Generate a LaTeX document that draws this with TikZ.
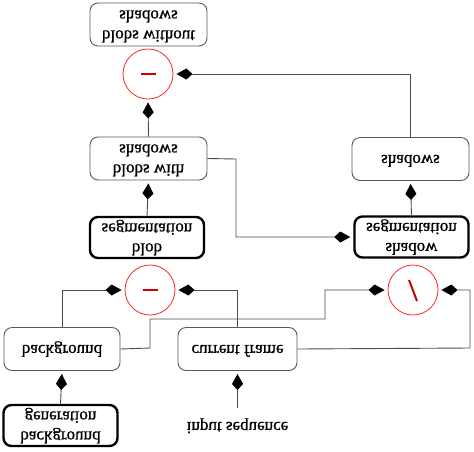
\documentclass[tikz,border=0pt]{standalone}
\usepackage{graphicx}
\usepackage{fontspec}
\setmainfont{Liberation Serif}
\newfontfamily\heavy[FakeBold=0.9]{Liberation Serif}
\usetikzlibrary{arrows.meta}
\newcommand{\fl}[1]{\scalebox{1}[-1]{\begin{tabular}{@{}c@{}}#1\end{tabular}}}
\begin{document}
\begin{tikzpicture}[x=1pt,y=-1pt,
  font=\heavy\fontsize{17}{20}\selectfont,
  box/.style={draw=black!65, line width=0.9pt, rounded corners=8pt, minimum width=117pt, minimum height=43pt, inner sep=0pt, fill=white},
  tbox/.style={draw=black, line width=2.4pt, rounded corners=8pt, minimum width=114pt, minimum height=41pt, inner sep=0pt, fill=white},
  op/.style={draw=red!85!white, line width=0.8pt, circle, minimum size=50pt, inner sep=0pt},
  conn/.style={draw=black!70, line width=0.9pt, -{Kite[length=16pt,width=11pt,inset=6pt,color=black,fill=black]}, shorten >=3pt},
  sign/.style={draw=red!80!black, line width=2pt}
]
\useasboundingbox (0,0) rectangle (474,451);
% boxes
\node[box] (bws) at (148.5,24.5) {\fl{blobs without\\shadows}};
\node[op] (c1) at (148,74) {};
\node[box] (bwith) at (148.5,158.5) {\fl{blobs with\\shadows}};
\node[box] (shadows) at (410.5,159) {\fl{shadows}};
\node[tbox] (blobseg) at (147,237.5) {\fl{blob\\segmentation}};
\node[tbox] (shadowseg) at (411.5,237) {\fl{shadow\\segmentation}};
\node[op] (c2) at (150,290) {};
\node[op] (c3) at (413,290) {};
\node[box, minimum width=116pt] (bg) at (62,349) {\fl{background}};
\node[box, minimum width=119pt] (cur) at (237.5,349) {\fl{current frame}};
\node[tbox] (bggen) at (60.5,425.5) {\fl{background\\generation}};
\node[inner sep=0pt] (inp) at (237.5,426) {\fl{input sequence}};
% operator signs
\draw[sign] ([xshift=-7.5pt]c1.center) -- ([xshift=7.5pt]c1.center);
\draw[sign] ([xshift=-7.5pt]c2.center) -- ([xshift=7.5pt]c2.center);
\draw[sign] ([xshift=-4pt,yshift=10pt]c3.center) -- ([xshift=4pt,yshift=-11pt]c3.center);
% connectors
\coordinate (k1) at (236,159);
\coordinate (k2) at (150,348);
\coordinate (k3) at (150,319);
\coordinate (k4) at (325,319);
\coordinate (k5) at (470,348);
\draw[conn] (bwith.north) -- (c1.south);
\draw[conn] (shadows.north) |- (c1.east);
\draw[conn] (blobseg.north) -- (bwith.south);
\draw[conn] (bwith.east) -- (k1) |- (shadowseg.west);
\draw[conn] (shadowseg.north) -- (shadows.south);
\draw[conn] (bg.north) |- (c2.west);
\draw[conn] (cur.north) |- (c2.east);
\draw[conn] (bg.east) -- (k2) -- (k3) -- (k4) |- (c3.west);
\draw[conn] (cur.east) -- (k5) |- (c3.east);
\draw[conn] (bggen.north) -- (bg.south);
\draw[conn, shorten <=8pt] (inp.north) -- (cur.south);
\end{tikzpicture}
\end{document}
